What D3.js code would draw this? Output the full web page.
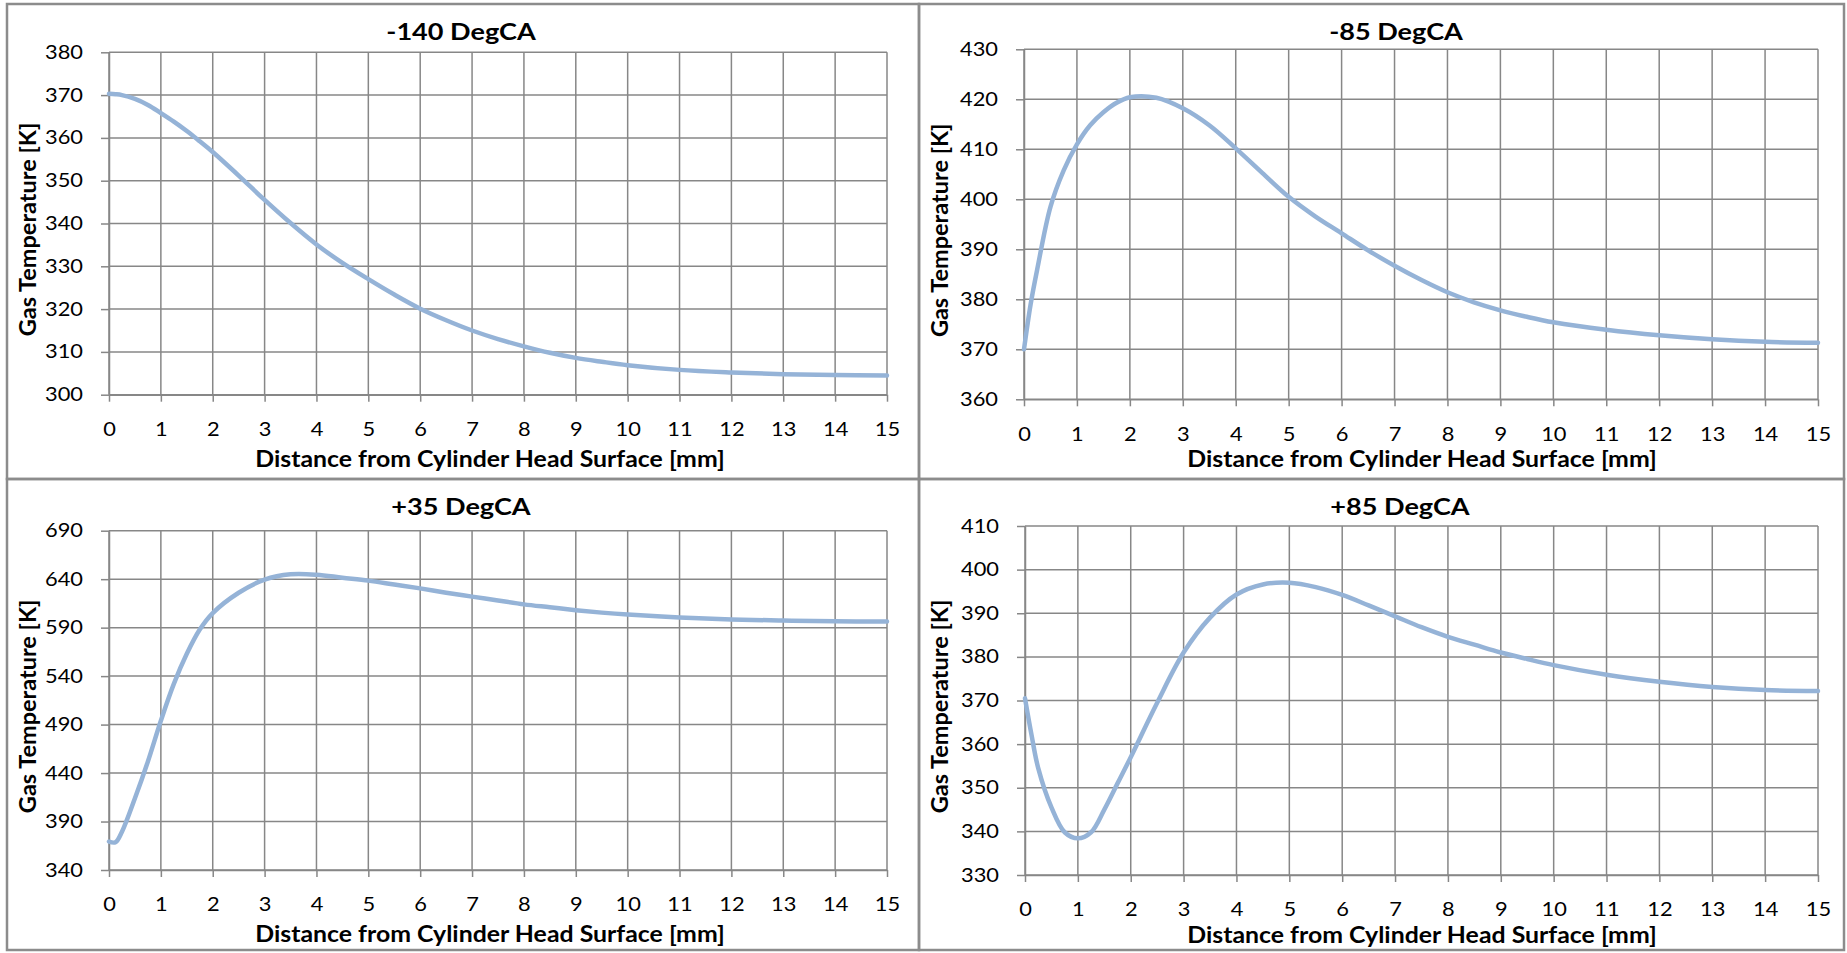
<!DOCTYPE html>
<html>
<head>
<meta charset="utf-8">
<script src="https://cdn.jsdelivr.net/npm/d3@7"></script>
<style>
  html, body { margin: 0; padding: 0; background: #fff; }
  svg { display: block; }
  text { font-family: Lato, "Open Sans", sans-serif; fill: #000; }
  .tick-label { font-size: 19px; }
  .panel-title { font-size: 22px; font-weight: 700; }
  .axis-title { font-size: 22px; font-weight: 700; }
  .axis-title-v { font-size: 23.5px; font-weight: 700; }
</style>
</head>
<body>
<script>
// Gas temperature profiles near the cylinder head at four crank angles

const distance = [0, 0.125, 0.25, 0.5, 0.75, 1, 1.25, 1.5, 1.75, 2, 2.5, 3, 3.5, 4, 4.5, 5,
                  5.5, 6, 6.5, 7, 7.5, 8, 8.5, 9, 9.5, 10, 11, 12, 13, 14, 15];

const tempM140 = [370.3, 370.2, 370.0, 369.1, 367.7, 365.8, 363.8, 361.6, 359.2, 356.7, 351.2, 345.5, 340.1, 335.1, 330.8, 327.0,
                  323.4, 320.1, 317.4, 315.0, 313.0, 311.3, 309.8, 308.6, 307.7, 306.9, 305.8, 305.2, 304.8, 304.6, 304.5];

const tempM85 = [370.0, 379.0, 386.0, 398.5, 405.8, 411.0, 414.8, 417.4, 419.3, 420.4, 420.3, 418.2, 414.8, 410.2, 405.3, 400.5,
                 396.6, 393.2, 389.8, 386.7, 383.9, 381.4, 379.4, 377.8, 376.5, 375.4, 373.9, 372.8, 372.0, 371.5, 371.3];

const tempP35 = [369.3, 368.6, 379.5, 414.0, 452.0, 494.0, 532.0, 563.0, 588.0, 605.0, 626.0, 639.5, 645.0, 644.6, 641.5, 638.5,
                 634.5, 630.5, 626.0, 622.0, 618.0, 614.0, 611.0, 608.0, 605.5, 603.5, 600.5, 598.5, 597.3, 596.5, 596.3];

const tempP85 = [370.5, 362.0, 354.5, 345.5, 339.8, 338.4, 339.8, 345.0, 351.0, 357.0, 369.5, 381.0, 389.0, 394.3, 396.6, 397.0,
                 396.0, 394.2, 391.8, 389.3, 386.8, 384.6, 382.8, 381.0, 379.5, 378.1, 375.9, 374.3, 373.1, 372.4, 372.2];

const panelTitles = ["-140 DegCA", "-85 DegCA", "+35 DegCA", "+85 DegCA"];
const panelSeries = [tempM140, tempM85, tempP35, tempP85];
const yDomains = [[300, 380], [360, 430], [340, 690], [330, 410]];
const yTickSteps = [10, 10, 50, 10];
const xTickValues = d3.range(0, 16, 1);
const xAxisTitle = "Distance from Cylinder Head Surface [mm]";
const yAxisTitle = "Gas Temperature [K]";

// Page geometry: outer frame of each chart and its plot rectangle [x0, y0, x1, y1]
const layout = [
  { box: [7, 4, 919, 479],    plot: [109, 52.3, 887, 394.7],  titleX: 461,  titleY: 40,  xTitleX: 490,  xTitleY: 467 },
  { box: [919, 4, 1844, 479], plot: [1024, 49.3, 1818, 399.3], titleX: 1396, titleY: 40,  xTitleX: 1422, xTitleY: 467 },
  { box: [7, 479, 919, 950],  plot: [109, 530.7, 887, 870],   titleX: 461,  titleY: 515, xTitleX: 490,  xTitleY: 942 },
  { box: [919, 479, 1844, 950], plot: [1025, 526, 1818, 875], titleX: 1400, titleY: 515, xTitleX: 1422, xTitleY: 943 }
];

// horizontal stretch of the lettering
const SX_TICK = 1.15, SX_TITLE = 1.23, SX_AXIS = 1.13;
const GRID = "#878787";
const LINE = "#95B3D7";

const W = 1847, H = 953;
const svg = d3.select("body").append("svg").attr("width", W).attr("height", H);
svg.append("rect").attr("width", W).attr("height", H).attr("fill", "#fff");

function wideText(g, x, y, str, anchor, cls, sx) {
  return g.append("text")
    .attr("class", cls)
    .attr("text-anchor", anchor)
    .attr("transform", `translate(${x},${y}) scale(${sx},1)`)
    .text(str);
}

panelTitles.forEach((title, i) => {
  const L = layout[i];
  const [bx0, by0, bx1, by1] = L.box;
  const [px0, py0, px1, py1] = L.plot;
  const g = svg.append("g");

  const x = d3.scaleLinear().domain([0, 15]).range([px0, px1]);
  const y = d3.scaleLinear().domain(yDomains[i]).range([py1, py0]);
  const yTicks = d3.range(yDomains[i][0], yDomains[i][1] + 1e-9, yTickSteps[i]);

  // gridlines
  g.append("g").selectAll("line").data(yTicks).join("line")
    .attr("x1", px0).attr("x2", px1)
    .attr("y1", d => y(d)).attr("y2", d => y(d))
    .attr("stroke", GRID).attr("stroke-width", 1.5);
  g.append("g").selectAll("line").data(xTickValues).join("line")
    .attr("x1", d => x(d)).attr("x2", d => x(d))
    .attr("y1", py0).attr("y2", py1)
    .attr("stroke", GRID).attr("stroke-width", 1.5);

  // axes
  const xAxis = g.append("g").attr("transform", `translate(0,${py1})`)
    .call(d3.axisBottom(x).tickValues(xTickValues).tickSize(7).tickSizeOuter(0).tickPadding(21)
      .tickFormat(d3.format("d")));
  const yAxis = g.append("g").attr("transform", `translate(${px0},0)`)
    .call(d3.axisLeft(y).tickValues(yTicks).tickSize(8).tickSizeOuter(0).tickPadding(18)
      .tickFormat(d3.format("d")));
  [xAxis, yAxis].forEach(a => {
    a.select(".domain").attr("stroke", GRID).attr("stroke-width", 1.5);
    a.selectAll(".tick line").attr("stroke", GRID).attr("stroke-width", 1.5);
    a.selectAll(".tick text").attr("class", "tick-label").attr("font-family", null).attr("font-size", null);
  });
  xAxis.selectAll(".tick text").attr("transform", `scale(${SX_TICK},1)`);
  yAxis.selectAll(".tick text").each(function () {
    const t = d3.select(this);
    t.attr("x", +t.attr("x") / SX_TICK).attr("transform", `scale(${SX_TICK},1)`);
  });

  // data line
  const line = d3.line()
    .x((d, k) => x(distance[k]))
    .y(d => y(d))
    .curve(d3.curveCatmullRom.alpha(0.5));
  g.append("path").datum(panelSeries[i])
    .attr("d", line)
    .attr("fill", "none")
    .attr("stroke", LINE)
    .attr("stroke-width", 4.5)
    .attr("stroke-linejoin", "round")
    .attr("stroke-linecap", "round");

  // titles
  wideText(g, L.titleX, L.titleY, title, "middle", "panel-title", SX_TITLE);
  wideText(g, L.xTitleX, L.xTitleY, xAxisTitle, "middle", "axis-title", SX_AXIS);
  g.append("text")
    .attr("class", "axis-title-v")
    .attr("text-anchor", "middle")
    .attr("transform", `translate(${bx0 + 29},${(py0 + py1) / 2 + 6}) rotate(-90)`)
    .text(yAxisTitle);

  // chart frame
  g.append("rect")
    .attr("x", bx0).attr("y", by0)
    .attr("width", bx1 - bx0).attr("height", by1 - by0)
    .attr("fill", "none").attr("stroke", "#8c8c8c").attr("stroke-width", 2.5);
});
</script>
</body>
</html>
